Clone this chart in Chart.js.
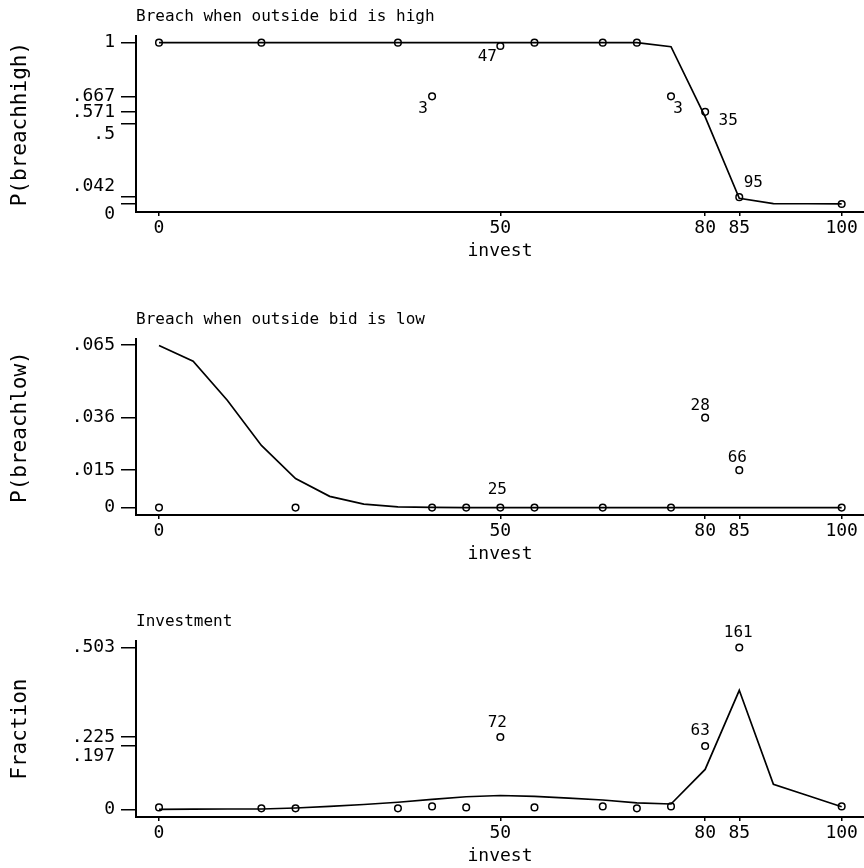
<!DOCTYPE html>
<html>
<head>
<meta charset="utf-8">
<script src="https://cdn.jsdelivr.net/npm/chart.js@4.4.1/dist/chart.umd.min.js"></script>
<style>
  body { margin: 0; background: #fff; }
  .panel { position: absolute; left: 0; width: 864px; height: 263px; }
</style>
</head>
<body>
<div class="panel" style="top:0px"><canvas id="high" width="864" height="263"></canvas></div>
<div class="panel" style="top:303px"><canvas id="low" width="864" height="263"></canvas></div>
<div class="panel" style="top:605px"><canvas id="inv" width="864" height="263"></canvas></div>
<script>
// data

// x positions where the fitted curves are evaluated
const gridX = [0, 5, 10, 15, 20, 25, 30, 35, 40, 45, 50, 55, 60, 65, 70, 75, 80, 85, 90, 95, 100];
const investTicks = [0, 50, 80, 85, 100];

// breach when outside bid is high
const highX = [0, 15, 35, 40, 50, 55, 65, 70, 75, 80, 85, 100];
const highP = [1, 1, 1, 0.667, 0.979, 1, 1, 1, 0.667, 0.571, 0.042, 0];
const highN = [null, null, null, 3, 47, null, null, null, 3, 35, 95, null];
const highFit = [1, 1, 1, 1, 1, 1, 1, 1, 1, 1, 1, 1, 1, 1, 1, 0.975, 0.54, 0.035, 0.002, 0.001, 0];
const highTicks = [0, 0.042, 0.5, 0.571, 0.667, 1];
const highTickText = ['0', '.042', '.5', '.571', '.667', '1'];

// breach when outside bid is low
const lowX = [0, 20, 40, 45, 50, 55, 65, 75, 80, 85, 100];
const lowP = [0, 0, 0, 0, 0, 0, 0, 0, 0.036, 0.015, 0];
const lowN = [null, null, null, null, 25, null, null, null, 28, 66, null];
const lowFit = [0.0649, 0.0586, 0.043, 0.0249, 0.0116, 0.0045, 0.0014, 0.0003, 0.0001, 0, 0, 0, 0, 0, 0, 0, 0, 0, 0, 0, 0];
const lowTicks = [0, 0.015, 0.036, 0.065];
const lowTickText = ['0', '.015', '.036', '.065'];

// investment
const invX = [0, 15, 20, 35, 40, 45, 50, 55, 65, 70, 75, 80, 85, 100];
const invFrac = [0.006, 0.003, 0.003, 0.003, 0.009, 0.006, 0.225, 0.006, 0.009, 0.003, 0.009, 0.197, 0.503, 0.009];
const invN = [null, null, null, null, null, null, 72, null, null, null, null, 63, 161, null];
const invFit = [0, 0.0005, 0.001, 0.001, 0.004, 0.009, 0.015, 0.022, 0.031, 0.039, 0.043, 0.040, 0.035, 0.029, 0.020, 0.0165, 0.124, 0.370, 0.078, 0.043, 0.008];
const invTicks = [0, 0.197, 0.225, 0.503];
const invTickText = ['0', '.197', '.225', '.503'];

const FONT = 'DejaVu Sans Mono';

function pairs(xs, ys) {
  return xs.map((x, i) => ({ x: x, y: ys[i] }));
}

// count labels next to the circles
function countLabels(counts, nudge) {
  return {
    id: 'countLabels',
    afterDatasetsDraw(chart) {
      const meta = chart.getDatasetMeta(1);
      const ctx = chart.ctx;
      ctx.save();
      ctx.font = '16px "' + FONT + '"';
      ctx.fillStyle = '#000';
      ctx.textAlign = 'center';
      ctx.textBaseline = 'middle';
      counts.forEach((n, i) => {
        if (n == null) return;
        const el = meta.data[i];
        const d = nudge[i];
        ctx.fillText(String(n), el.x + d[0], el.y + d[1]);
      });
      ctx.restore();
    }
  };
}

function makePanel(p) {
  return new Chart(p.id, {
    type: 'scatter',
    data: {
      datasets: [{
        data: pairs(gridX, p.fit),
        showLine: true,
        borderColor: '#000',
        borderWidth: 1.7,
        pointRadius: 0,
        tension: 0
      }, {
        data: pairs(p.x, p.y),
        showLine: false,
        pointRadius: 3.3,
        pointBorderWidth: 1.5,
        pointBorderColor: '#000',
        pointBackgroundColor: 'rgba(0,0,0,0)'
      }]
    },
    options: {
      responsive: false,
      animation: false,
      devicePixelRatio: 1,
      layout: { padding: 0, autoPadding: false },
      plugins: {
        legend: { display: false },
        tooltip: { enabled: false },
        title: {
          display: true,
          text: p.title,
          align: 'start',
          fullSize: false,
          color: '#000',
          font: { family: FONT, size: 16, weight: 'normal' },
          padding: { top: 7, bottom: 10 }
        }
      },
      scales: {
        x: {
          type: 'linear',
          min: -3.37,
          max: 103.27,
          afterBuildTicks: s => { s.ticks = investTicks.map(v => ({ value: v })); },
          afterFit: s => { s.height = 51; s.paddingLeft = 0; s.paddingRight = 0; },
          ticks: {
            autoSkip: false,
            maxRotation: 0,
            padding: 2,
            color: '#000',
            font: { family: FONT, size: 18 },
            callback: v => String(v)
          },
          grid: { drawOnChartArea: false, drawTicks: true, tickLength: 4, color: '#000', lineWidth: 1.5 },
          border: { display: true, color: '#000', width: 2 },
          title: {
            display: true,
            text: 'invest',
            color: '#000',
            font: { family: FONT, size: 18 },
            padding: { top: 0, bottom: 1 }
          }
        },
        y: {
          type: 'linear',
          min: p.yMin,
          max: p.yMax,
          afterBuildTicks: s => { s.ticks = p.ticks.map(v => ({ value: v })); },
          afterFit: s => { s.width = 136; s.paddingTop = 0; s.paddingBottom = 0; },
          ticks: {
            autoSkip: false,
            padding: 6,
            color: '#000',
            font: { family: FONT, size: 18 },
            callback: v => {
              const t = p.tickText[p.ticks.indexOf(v)];
              if (p.shift[t] === 'up') return [t, ''];
              if (p.shift[t] === 'down') return ['', t];
              return t;
            }
          },
          grid: { drawOnChartArea: false, drawTicks: true, tickLength: 15, color: '#000', lineWidth: 1.5 },
          border: { display: true, color: '#000', width: 2 },
          title: {
            display: true,
            text: p.yTitle,
            color: '#000',
            font: { family: FONT, size: 21 },
            padding: { top: 8, bottom: 0 }
          }
        }
      }
    },
    plugins: [countLabels(p.counts, p.nudge)]
  });
}

makePanel({
  id: 'high',
  title: 'Breach when outside bid is high',
  yTitle: 'P(breachhigh)',
  x: highX, y: highP, fit: highFit, counts: highN,
  nudge: [null, null, null, [-9, 12], [-13, 11], null, null, null, [7, 12], [23, 9], [14, -14], null],
  yMin: -0.05, yMax: 1.04,
  ticks: highTicks, tickText: highTickText,
  shift: { '.042': 'up', '.5': 'down', '0': 'down' }
});

makePanel({
  id: 'low',
  title: 'Breach when outside bid is low',
  yTitle: 'P(breachlow)',
  x: lowX, y: lowP, fit: lowFit, counts: lowN,
  nudge: [null, null, null, null, [-3, -18], null, null, null, [-5, -12], [-2, -12], null],
  yMin: -0.00296, yMax: 0.0674,
  ticks: lowTicks, tickText: lowTickText,
  shift: {}
});

makePanel({
  id: 'inv',
  title: 'Investment',
  yTitle: 'Fraction',
  x: invX, y: invFrac, fit: invFit, counts: invN,
  nudge: [null, null, null, null, null, null, [-3, -14], null, null, null, null, [-5, -15], [-1, -15], null],
  yMin: -0.0239, yMax: 0.5226,
  ticks: invTicks, tickText: invTickText,
  shift: { '.197': 'down' }
});
</script>
</body>
</html>
